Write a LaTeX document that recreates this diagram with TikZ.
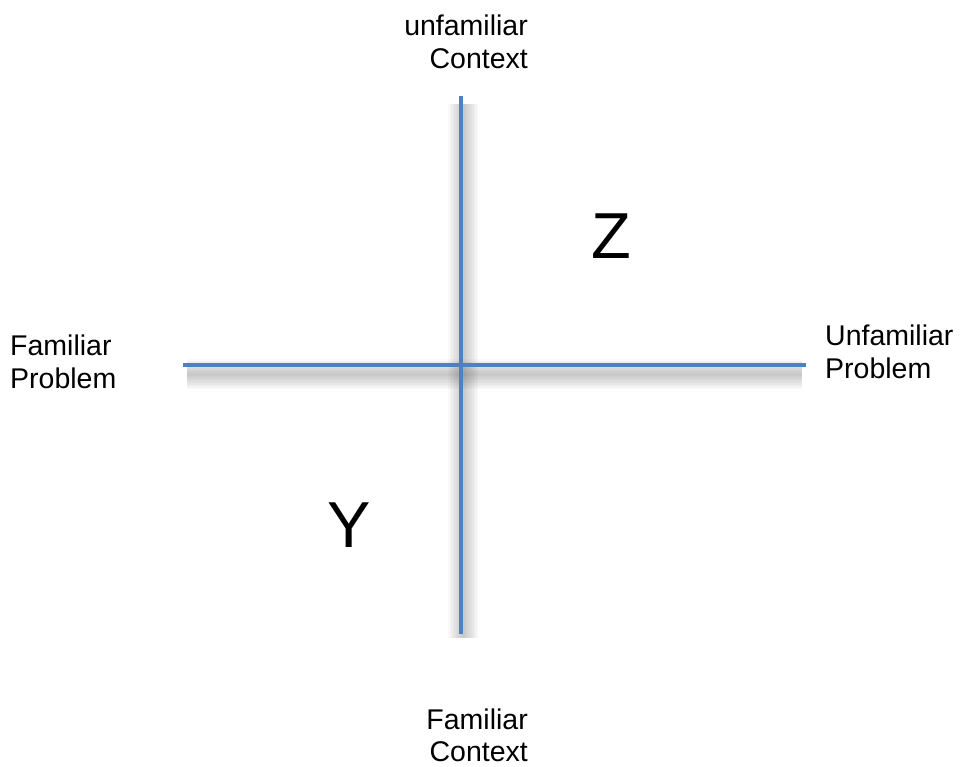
\documentclass[tikz,border=0pt]{standalone}
\usepackage{fontspec}
\setmainfont{Liberation Sans}
\begin{document}
\begin{tikzpicture}[x=1pt,y=-1pt,
  axis/.style={draw={rgb,255:red,79;green,129;blue,189}, line width=4pt},
  lbl/.style={inner sep=0pt, font=\fontsize{28.5}{33}\selectfont},
  big/.style={inner sep=0pt, font=\fontsize{65}{70}\selectfont},
  shade/.style={draw=black, draw opacity=0.022}]
\useasboundingbox (0,0) rectangle (961,767);
\coordinate (top) at (461,96);
\coordinate (bot) at (461,634);
\coordinate (lft) at (183,365);
\coordinate (rgt) at (806,365);
% shadows
\foreach \w in {3,6,9,12,15,18,21,24,27,30}{
  \draw[shade, line width=\w pt] ([xshift=4pt,yshift=-9pt]lft) -- ([xshift=-4pt,yshift=-9pt]rgt);
  \draw[shade, line width=\w pt] ([xshift=2pt,yshift=-8pt]top) -- ([xshift=2pt,yshift=-4pt]bot);
}
\draw[axis] (lft) -- (rgt);
\draw[axis] (top) -- (bot);
\node[lbl, anchor=north west, align=left] (fp) at (10,335) {Familiar\\Problem};
\node[lbl, anchor=north west, align=left] (up) at (825,325) {Unfamiliar\\Problem};
\node[lbl, anchor=north east, align=right] (uc) at (528,15) {unfamiliar\\Context};
\node[lbl, anchor=north east, align=right, font=\fontsize{28.5}{32}\selectfont] (fc) at (528,709) {Familiar\\Context};
\node[big] (z) at (611.5,236.5) {Z};
\node[big] (y) at (349,525) {Y};
\end{tikzpicture}
\end{document}
